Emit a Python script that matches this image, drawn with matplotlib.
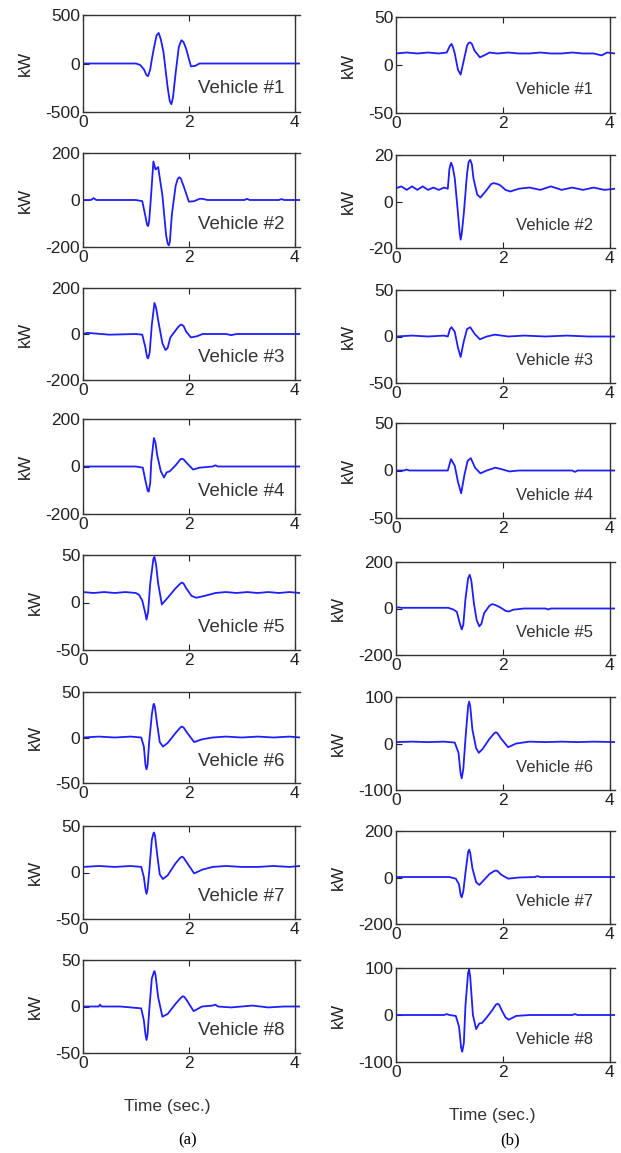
import matplotlib
matplotlib.use("Agg")
import matplotlib.pyplot as plt

plt.rcParams['font.family'] = ['Liberation Sans', 'DejaVu Sans']
plt.rcParams['axes.unicode_minus'] = False

# ---- column (a) ----
a_lim = [500, 200, 200, 200, 50, 50, 50, 50]
a_t = [
    [0, 0.5, 1.0, 1.08, 1.15, 1.2, 1.23, 1.27, 1.3, 1.34, 1.39, 1.43, 1.47, 1.52, 1.6, 1.64, 1.67, 1.7, 1.75,
     1.81, 1.86, 1.9, 1.95, 2.04, 2.12, 2.2, 3.0, 4.1],
    [0, 0.15, 0.2, 0.25, 1.0, 1.12, 1.18, 1.21, 1.23, 1.25, 1.28, 1.33, 1.37, 1.42, 1.5, 1.57, 1.6, 1.62, 1.64,
     1.68, 1.75, 1.79, 1.82, 1.85, 1.9, 2.0, 2.1, 2.2, 2.26, 2.35, 2.5, 3.05, 3.1, 3.15, 3.7, 3.75, 3.8, 4.1],
    [0, 0.08, 0.5, 1.0, 1.12, 1.18, 1.21, 1.23, 1.26, 1.3, 1.35, 1.38, 1.42, 1.5, 1.56, 1.6, 1.65, 1.78, 1.83,
     1.86, 1.9, 1.95, 2.04, 2.15, 2.26, 2.7, 2.8, 2.9, 3.5, 4.1],
    [0, 1.0, 1.13, 1.18, 1.22, 1.24, 1.27, 1.29, 1.34, 1.37, 1.4, 1.47, 1.53, 1.58, 1.64, 1.75, 1.84, 1.87,
     1.9, 1.96, 2.08, 2.2, 2.45, 2.5, 2.55, 4.1],
    [0, 0.2, 0.4, 0.6, 0.8, 1.0, 1.06, 1.12, 1.18, 1.2, 1.23, 1.27, 1.33, 1.35, 1.38, 1.42, 1.49, 1.6, 1.75,
     1.84, 1.87, 1.9, 1.95, 2.05, 2.14, 2.3, 2.5, 2.7, 2.9, 3.1, 3.3, 3.5, 3.7, 3.9, 4.1],
    [0, 0.3, 0.6, 0.9, 1.1, 1.15, 1.18, 1.2, 1.22, 1.25, 1.3, 1.33, 1.34, 1.36, 1.4, 1.45, 1.51, 1.6, 1.75,
     1.84, 1.87, 1.9, 1.97, 2.1, 2.25, 2.45, 2.7, 3.0, 3.3, 3.6, 3.9, 4.1],
    [0, 0.3, 0.6, 0.9, 1.1, 1.15, 1.18, 1.2, 1.22, 1.25, 1.3, 1.33, 1.34, 1.36, 1.4, 1.45, 1.51, 1.6, 1.75,
     1.84, 1.87, 1.9, 1.97, 2.1, 2.25, 2.45, 2.7, 3.0, 3.3, 3.6, 3.9, 4.1],
    [0, 0.3, 0.32, 0.35, 0.7, 1.1, 1.15, 1.18, 1.2, 1.22, 1.25, 1.3, 1.34, 1.35, 1.37, 1.42, 1.5, 1.6, 1.75,
     1.86, 1.89, 1.92, 1.98, 2.09, 2.25, 2.45, 2.5, 2.55, 2.8, 3.0, 3.2, 3.5, 3.8, 4.1],
]
a_kw = [
    [0, 0, 0, -15, -60, -120, -130, -60, 40, 160, 290, 315, 250, 120, -250, -390, -420, -350, -100, 170, 240,
     220, 150, -30, -25, 0, 0, 0],
    [0, 0, 8, 0, 0, -5, -70, -105, -111, -90, 0, 164, 130, 140, 20, -150, -185, -193, -180, -60, 60, 90, 97,
     90, 60, -7, -5, 5, 5, 0, 0, 0, 5, 0, 0, 4, 0, 0],
    [0, 5, -3, 0, -3, -60, -100, -106, -80, 40, 135, 115, 60, -40, -70, -60, -15, 25, 38, 41, 35, 10, -15, -10,
     0, 0, -5, 0, 0, 0],
    [0, 0, -5, -60, -100, -106, -70, 20, 120, 100, 50, -20, -46, -25, -20, 5, 30, 33, 30, 15, -13, -5, 0, 5, 0,
     0],
    [11, 10, 11, 10, 11, 10, 8, 2, -12, -18, -10, 20, 46, 48, 40, 20, -2, 5, 15, 20, 21, 20, 15, 7, 5, 7, 10,
     11, 10, 11, 10, 11, 10, 11, 10],
    [0, 1, 0, 1, 0, -10, -30, -35, -30, -5, 25, 36, 37, 33, 15, -5, -10, -6, 5, 11, 12, 11, 5, -5, -2, 0, 1, 0,
     1, 0, 1, 0],
    [6, 7, 6, 7, 6, -5, -18, -23, -18, 0, 35, 42, 43, 40, 20, -2, -7, -3, 10, 16, 17, 16, 10, -1, 3, 6, 7, 6,
     6, 7, 6, 7],
    [0, 0, 2, 0, 0, -2, -15, -30, -36, -30, -5, 30, 37, 38, 34, 10, -11, -8, 3, 10, 11, 10, 5, -5, 0, 1, 2, 0,
     -1, 0, 1, -1, 0, 0],
]

# ---- column (b) ----
b_lim = [50, 20, 50, 50, 200, 100, 200, 100]
b_t = [
    [0, 0.2, 0.4, 0.6, 0.8, 0.95, 1.01, 1.04, 1.07, 1.1, 1.16, 1.21, 1.27, 1.33, 1.36, 1.39, 1.42, 1.47, 1.57,
     1.65, 1.75, 1.9, 2.1, 2.3, 2.5, 2.7, 2.9, 3.1, 3.3, 3.5, 3.7, 3.85, 3.95, 4.1],
    [0, 0.1, 0.2, 0.3, 0.4, 0.5, 0.6, 0.7, 0.8, 0.9, 0.97, 1.0, 1.03, 1.06, 1.1, 1.16, 1.19, 1.21, 1.23, 1.27,
     1.33, 1.36, 1.39, 1.42, 1.45, 1.52, 1.58, 1.7, 1.78, 1.83, 1.9, 1.95, 2.05, 2.14, 2.3, 2.5, 2.7, 2.9, 3.1,
     3.3, 3.5, 3.7, 3.9, 4.1],
    [0, 0.3, 0.6, 0.9, 0.97, 1.01, 1.04, 1.1, 1.16, 1.21, 1.27, 1.33, 1.39, 1.47, 1.57, 1.7, 1.85, 2.1, 2.4,
     2.8, 3.2, 3.6, 4.1],
    [0, 0.15, 0.2, 0.25, 0.97, 1.03, 1.1, 1.16, 1.22, 1.28, 1.34, 1.4, 1.48, 1.58, 1.7, 1.86, 2.0, 2.12, 2.3,
     3.3, 3.35, 3.4, 4.1],
    [0, 0.05, 0.1, 0.5, 0.98, 1.08, 1.14, 1.19, 1.23, 1.26, 1.3, 1.35, 1.38, 1.41, 1.46, 1.51, 1.56, 1.6, 1.65,
     1.75, 1.8, 1.86, 1.95, 2.05, 2.11, 2.2, 2.4, 2.8, 2.85, 2.9, 4.1],
    [0, 0.3, 0.6, 0.9, 1.1, 1.17, 1.21, 1.23, 1.26, 1.3, 1.35, 1.37, 1.39, 1.43, 1.5, 1.55, 1.62, 1.75, 1.84,
     1.87, 1.9, 1.97, 2.1, 2.25, 2.5, 2.8, 3.1, 3.4, 3.7, 4.1],
    [0, 0.5, 1.0, 1.12, 1.18, 1.21, 1.23, 1.26, 1.3, 1.35, 1.37, 1.39, 1.43, 1.5, 1.56, 1.65, 1.75, 1.84, 1.87,
     1.9, 1.97, 2.1, 2.3, 2.6, 2.65, 2.7, 3.2, 4.1],
    [0, 0.9, 0.95, 1.0, 1.12, 1.18, 1.22, 1.24, 1.27, 1.3, 1.35, 1.37, 1.39, 1.44, 1.5, 1.56, 1.61, 1.7, 1.8,
     1.87, 1.9, 1.93, 1.98, 2.05, 2.11, 2.25, 2.5, 3.0, 3.3, 3.35, 3.4, 4.1],
]
b_kw = [
    [12, 13, 12, 13, 12, 13, 20, 22, 18, 12, -5, -10, 5, 20, 23, 23.5, 22, 15, 8, 10, 13, 12, 13, 12, 12, 13,
     12, 12, 13, 12, 12, 10, 13, 12],
    [5.7, 6.5, 5, 6.5, 5, 6.5, 5, 6, 5, 6, 5.5, 14, 16.7, 15, 10, -5, -13, -16.4, -14, -5, 12, 17, 17.9, 16, 10,
     3, 1.7, 5, 7.5, 7.9, 7.5, 7, 5, 4.3, 5.5, 6, 5, 6.5, 5, 6, 5, 6, 5, 5.5],
    [0, 1, 0, 1, 0, 8, 10, 5, -12, -22, -5, 8, 10, 3, -3, 0, 2, 0, 1, 0, 1, 0, 0],
    [0, 0, 1, 0, 0, 12, 5, -12, -24, -5, 10, 13, 3, -3, 0, 3, 1, -1, 0, 0, -1.5, 0, 0],
    [3, 5, 3, 3, 3, -5, -15, -60, -90, -70, 40, 130, 145, 120, 20, -50, -77, -65, -20, 12, 19, 15, 5, -10, -13,
     -5, 0, 0, -4, 0, 0],
    [3, 4, 3, 4, 2, -20, -65, -75, -55, 10, 80, 90, 80, 30, -10, -20, -12, 10, 22, 24, 22, 10, -8, 0, 4, 3, 4,
     3, 4, 3],
    [2, 2, 2, -5, -30, -75, -85, -60, 20, 110, 120, 105, 40, -20, -32, -10, 15, 28, 30, 28, 12, -5, 0, 2, 6, 2,
     2, 2],
    [0, 0, 2, 0, -2, -25, -70, -78, -60, 20, 90, 97, 80, 0, -30, -18, -17, -5, 10, 22, 24, 22, 10, -5, -10, -2,
     0, 0, 0, 2, 0, 0],
]

vehicles = ["Vehicle #%d" % (i + 1) for i in range(8)]
xticks = [0, 2, 4]

W, H = 621, 1153
fig = plt.figure(figsize=(W / 100, H / 100), dpi=100)

# pixel boxes (top, bottom) for each row
a_rows = [(15, 112), (153, 247), (288, 380), (419, 514), (555, 650), (692, 783), (826, 919), (960, 1053)]
b_rows = [(17, 113), (155, 248), (290, 383), (423, 518), (562, 655), (697, 790), (831, 924), (968, 1062)]
cols = [(83, 300, a_rows, a_t, a_kw, a_lim, 0.93, 13.5, 0.39),
        (396, 615, b_rows, b_t, b_kw, b_lim, 0.90, 12, 0.44)]

for x0, x1, rows, ts, kws, lims, tx, tsize, lx in cols:
    for i in range(8):
        top, bot = rows[i]
        ax = fig.add_axes([x0 / W, 1 - bot / H, (x1 - x0) / W, (bot - top) / H])
        ax.plot(ts[i], kws[i], color='#1e1eff', lw=1.3, solid_joinstyle='round')
        ax.set_xlim(0, 4.1)
        ax.set_ylim(-lims[i], lims[i])
        ax.set_xticks(xticks)
        ax.set_yticks([-lims[i], 0, lims[i]])
        ax.tick_params(direction='in', top=True, right=False, length=4, labelsize=12.5,
                       color='#222222', labelcolor='#222222', pad=2)
        for s in ax.spines.values():
            s.set_color('#333333')
            s.set_linewidth(1.0)
        ax.spines['right'].set_position(('data', 4))
        ax.set_ylabel('kW', fontsize=12.5, color='#222222', labelpad=9)
        ax.text(tx, 0.24, vehicles[i], transform=ax.transAxes, ha='right', va='center',
                fontsize=tsize, color='#333333')
        if i == 7:
            ax.set_xlabel('Time (sec.)', fontsize=12.5, color='#333333')
            ax.xaxis.set_label_coords(lx, -0.49)

fig.text(188 / W, 1 - 1140 / H, '(a)', ha='center', va='center', fontsize=12,
         family=['Liberation Serif', 'DejaVu Serif'])
fig.text(510 / W, 1 - 1140 / H, '(b)', ha='center', va='center', fontsize=12,
         family=['Liberation Serif', 'DejaVu Serif'])

fig.savefig('out.png', dpi=100)
